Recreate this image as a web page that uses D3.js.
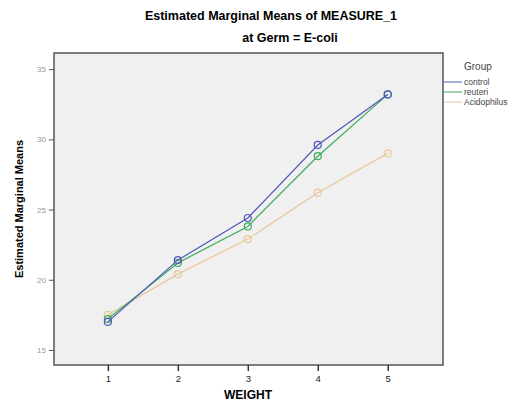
<!DOCTYPE html>
<html>
<head>
<meta charset="utf-8">
<script src="https://cdn.jsdelivr.net/npm/d3@7"></script>
<style>
  body { margin: 0; background: #fff; }
  text { font-family: Arial, "Liberation Sans", sans-serif; }
</style>
</head>
<body>
<script>
// chart values
const weights = [1, 2, 3, 4, 5];
const groups = ["control", "reuteri", "Acidophilus"];
const controlMeans = [17.0, 21.4, 24.4, 29.6, 33.2];
const reuteriMeans = [17.2, 21.2, 23.8, 28.8, 33.2];
const acidophilusMeans = [17.5, 20.4, 22.9, 26.2, 29.0];
const yTicks = [15, 20, 25, 30, 35];
const colors = ["#5058b8", "#3daa5c", "#e8c89c"];

const series = [controlMeans, reuteriMeans, acidophilusMeans].map((vals, i) => ({
    name: groups[i],
    color: colors[i],
    values: vals.map((v, j) => ({ w: weights[j], m: v }))
}));

const width = 522, height = 403;
const plot = { left: 54, right: 443, top: 53, bottom: 365 };

const x = d3.scaleLinear().domain([0.23, 5.79]).range([plot.left, plot.right]);
const y = d3.scaleLinear().domain([13.93, 36.15]).range([plot.bottom, plot.top]);

const svg = d3.select('body').append('svg')
    .attr('width', width)
    .attr('height', height);

svg.append('rect')
    .attr('x', plot.left).attr('y', plot.top)
    .attr('width', plot.right - plot.left).attr('height', plot.bottom - plot.top)
    .attr('fill', '#f0f0f0')
    .attr('stroke', '#555').attr('stroke-width', 1.5);

const xAxis = d3.axisBottom(x).tickValues(weights).tickFormat(d3.format('d')).tickSize(6).tickSizeOuter(0);
const yAxis = d3.axisLeft(y).tickValues(yTicks).tickFormat(d3.format('d')).tickSize(5).tickSizeOuter(0);

const gx = svg.append('g')
    .attr('transform', `translate(0,${plot.bottom})`)
    .call(xAxis);
gx.select('.domain').remove();
gx.selectAll('line').attr('stroke', '#333').attr('stroke-width', 1.5);
gx.selectAll('text').attr('font-size', 9.5).attr('fill', '#222').attr('dy', '0.85em');

const gy = svg.append('g')
    .attr('transform', `translate(${plot.left},0)`)
    .call(yAxis);
gy.select('.domain').remove();
gy.selectAll('line').attr('stroke', '#555');
gy.selectAll('text').attr('font-size', 8).attr('fill', '#999');

const line = d3.line()
    .x(d => x(d.w))
    .y(d => y(d.m));

series.slice().reverse().forEach(s => {
    svg.append('path')
        .datum(s.values)
        .attr('fill', 'none')
        .attr('stroke', s.color)
        .attr('stroke-width', 1.2)
        .attr('d', line);
    svg.selectAll(null)
        .data(s.values)
        .enter().append('circle')
        .attr('cx', d => x(d.w))
        .attr('cy', d => y(d.m))
        .attr('r', 3.5)
        .attr('fill', 'none')
        .attr('stroke', s.color)
        .attr('stroke-width', 1.2);
});

// titles
svg.append('text')
    .attr('x', 271).attr('y', 20)
    .attr('text-anchor', 'middle')
    .attr('font-size', 12.5).attr('font-weight', 'bold')
    .text('Estimated Marginal Means of MEASURE_1');
svg.append('text')
    .attr('x', 290).attr('y', 42)
    .attr('text-anchor', 'middle')
    .attr('font-size', 12.5).attr('font-weight', 'bold')
    .text('at Germ = E-coli');

svg.append('text')
    .attr('x', 248).attr('y', 399)
    .attr('text-anchor', 'middle')
    .attr('font-size', 12).attr('font-weight', 'bold')
    .text('WEIGHT');

svg.append('text')
    .attr('transform', `translate(23,${(plot.top + plot.bottom) / 2}) rotate(-90)`)
    .attr('text-anchor', 'middle')
    .attr('font-size', 11).attr('font-weight', 'bold')
    .text('Estimated Marginal Means');

// legend
const legend = svg.append('g');
legend.append('text')
    .attr('x', 464).attr('y', 70)
    .attr('font-size', 10).attr('fill', '#444')
    .text('Group');
series.forEach((s, i) => {
    const ly = 82 + i * 10;
    legend.append('line')
        .attr('x1', 444).attr('x2', 462)
        .attr('y1', ly).attr('y2', ly)
        .attr('stroke', s.color).attr('stroke-width', 1);
    legend.append('text')
        .attr('x', 464).attr('y', ly + 3)
        .attr('font-size', 8.5).attr('fill', '#444')
        .text(s.name);
});
</script>
</body>
</html>
